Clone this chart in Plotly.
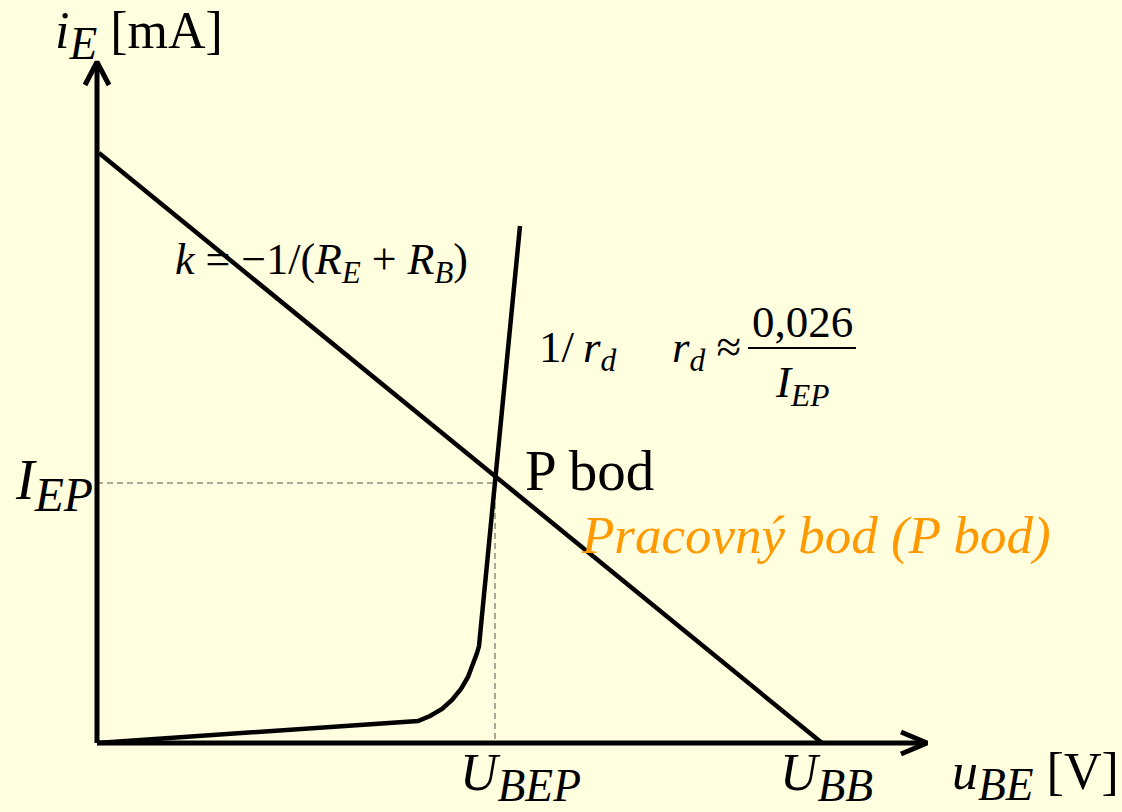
import plotly.graph_objects as go

# Operating point of the B-E junction: load line against the diode characteristic.
# Drawing units: u_BE runs along x, i_E along y, origin at the axes' corner.

# axes (end points) and open arrow heads
axis_x_u = [0, 830]
axis_x_i = [0, 0]
axis_y_u = [0, 0]
axis_y_i = [0, 681]
head_x_u = [804, 830, 804]
head_x_i = [11, 0, -11]
head_y_u = [-12, 0, 12]
head_y_i = [658, 681, 658]

# load line: i_E = (U_BB - u_BE) / (R_E + R_B)
load_u = [2, 725]
load_i = [590, 0]

# input characteristic of the junction (knee, then slope 1/r_d)
diode_u = [0, 321, 333, 345, 355, 364, 371, 376, 380, 382, 423]
diode_i = [0, 22, 27, 34, 43, 54, 66, 78, 90, 97, 517]

# operating point P (U_BEP, I_EP)
p_u = 398
p_i = 260

# fraction bar of r_d ≈ 0,026 / I_EP
frac_u = [651, 759]
frac_i = [395, 395]

BG = "#FFFFE0"
INK = "black"
ORANGE = "#FF9900"
SERIF = "Liberation Serif, Tinos, Times New Roman, serif"

fig = go.Figure()


def line(xs, ys, width=5, color=INK, dash=None):
    fig.add_trace(go.Scatter(
        x=xs, y=ys, mode="lines", hoverinfo="skip", showlegend=False,
        line=dict(color=color, width=width, dash=dash),
    ))


# guide lines to the operating point
line([0, p_u], [p_i, p_i], width=1, color="#555555", dash="6px,4px")
line([p_u, p_u], [p_i, 0], width=1, color="#555555", dash="6px,4px")

line(axis_x_u, axis_x_i)
line(axis_y_u, axis_y_i)
line(head_x_u, head_x_i)
line(head_y_u, head_y_i)
line(load_u, load_i, width=4.5)
line(diode_u, diode_i, width=4.5)
line(frac_u, frac_i, width=2)


def sub(text, scale=100):
    # italic subscript, optionally enlarged over the default 70 %
    return f'<sub><span style="font-size:{scale}%"><i>{text}</i></span></sub>'


def label(x, y, text, size, color=INK, xanchor="left", yanchor="middle"):
    fig.add_annotation(
        x=x, y=y, text=text, showarrow=False, xanchor=xanchor, yanchor=yanchor,
        font=dict(family=SERIF, size=size, color=color),
    )


label(-44, 708, "<i>i</i>" + sub("E", 125) + " [mA]", 52)
label(-84, 258, "<i>I</i>" + sub("EP", 122), 56)
label(361, -34, "<i>U</i>" + sub("BEP", 125), 52)
label(681, -34, "<i>U</i>" + sub("BB", 125), 52)
label(853, -33, "<i>u</i>" + sub("BE", 125) + " [V]", 52)
label(76, 481, "<i>k</i> = −1/(<i>R</i>" + sub("E") + " + <i>R</i>" + sub("B") + ")", 44)
label(440, 393, "1/\u2009<i>r</i>" + sub("d"), 45)
label(573, 393, "<i>r</i>" + sub("d") + " ≈", 45)
label(705, 421, "0,026", 45, xanchor="center")
label(705, 358, "<i>I</i>" + sub("EP"), 45, xanchor="center")
label(426, 273, "P bod", 57)
label(482, 208, "<i>Pracovný bod (P bod)</i>", 53, color=ORANGE)

fig.update_layout(
    width=1122, height=812,
    margin=dict(l=0, r=0, t=0, b=0),
    paper_bgcolor=BG, plot_bgcolor=BG,
    xaxis=dict(range=[-97, 1025], visible=False, fixedrange=True),
    yaxis=dict(range=[-69, 743], visible=False, fixedrange=True),
)

fig.write_html("out.html")
